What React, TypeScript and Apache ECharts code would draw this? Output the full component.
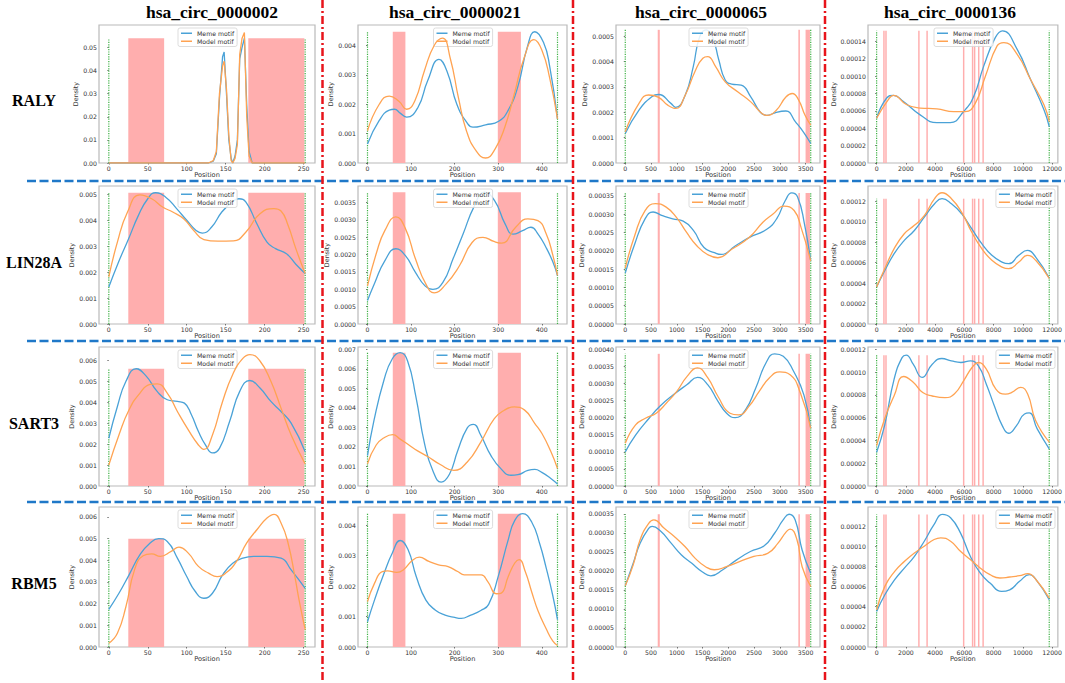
import React, { useEffect, useRef } from 'react';
import * as echarts from 'echarts';

// ---------- labels ----------
const columnTitles = ['hsa_circ_0000002', 'hsa_circ_0000021', 'hsa_circ_0000065', 'hsa_circ_0000136'];
const rowTitles = ['RALY', 'LIN28A', 'SART3', 'RBM5'];
const seriesNames = ['Meme motif', 'Model motif'];

// ---------- per-column data ----------
const seqLengths = [252, 436, 3600, 11800];
const xTickValues = [
  [0, 50, 100, 150, 200, 250],
  [0, 100, 200, 300, 400],
  [0, 500, 1000, 1500, 2000, 2500, 3000, 3500],
  [0, 2000, 4000, 6000, 8000, 10000, 12000],
];
const motifSites0002 = [[25, 71], [179, 251]];
const motifSites0021 = [[58, 87], [299, 352]];
const motifSites0065 = [[630, 670], [3360, 3390], [3500, 3585]];
const motifSites0136 = [[450, 550], [590, 690], [2840, 2940], [3400, 3500], [5900, 6000], [6510, 6610], [6650, 6750], [6930, 7030], [7230, 7330]];
const motifSites = [motifSites0002, motifSites0021, motifSites0065, motifSites0136];

// ---------- per-panel y axis ----------
const yTickStep = [
  [0.01, 0.001, 0.0001, 0.00002],
  [0.001, 0.0005, 0.00005, 0.00002],
  [0.001, 0.001, 0.00005, 0.00002],
  [0.001, 0.001, 0.00005, 0.00002],
];
const yTickDecimals = [
  [2, 3, 4, 5],
  [3, 4, 5, 5],
  [3, 3, 5, 5],
  [3, 3, 5, 5],
];
const yAxisTop = [
  [0.0597, 0.0047, 0.000544, 0.000159],
  [0.00531, 0.00398, 0.000377, 0.000135],
  [0.00664, 0.00712, 0.000407, 0.000122],
  [0.00646, 0.0046, 0.000368, 0.000139],
];

// ---------- curves: RALY ----------
const ralyC02Meme = [[0, 0], [128, 0], [134, 0.0008], [138, 0.004], [142, 0.028], [146, 0.046], [148, 0.048], [151, 0.03], [154, 0.01], [157, 0.002], [159, 0], [162, 0.003], [165, 0.01], [168, 0.045], [171, 0.05], [174, 0.054], [177, 0.025], [180, 0.005], [184, 0], [252, 0]];
const ralyC02Model = [[0, 0], [128, 0], [134, 0.001], [138, 0.005], [142, 0.03], [146, 0.042], [148, 0.044], [151, 0.032], [154, 0.012], [157, 0.001], [159, 0], [162, 0.002], [165, 0.008], [168, 0.047], [171, 0.054], [174, 0.0565], [177, 0.02], [180, 0.003], [184, 0], [252, 0]];
const ralyC21Meme = [[0, 0.00065], [27, 0.00145], [50, 0.0018], [62, 0.00183], [75, 0.0017], [90, 0.00156], [116, 0.0019], [138, 0.0028], [164, 0.00353], [183, 0.0031], [205, 0.002], [227, 0.0014], [242, 0.00122], [271, 0.0013], [301, 0.00142], [323, 0.0018], [345, 0.0026], [367, 0.00396], [384, 0.00447], [404, 0.0041], [418, 0.0033], [436, 0.0015]];
const ralyC21Model = [[0, 0.0011], [27, 0.002], [50, 0.00228], [72, 0.0021], [90, 0.00183], [109, 0.00213], [131, 0.00316], [153, 0.004], [172, 0.00425], [190, 0.00356], [209, 0.0022], [227, 0.0011], [249, 0.00042], [271, 0.00017], [293, 0.00048], [315, 0.00122], [337, 0.00236], [359, 0.00356], [382, 0.0042], [400, 0.00385], [418, 0.0029], [436, 0.0015]];
const ralyC65Meme = [[0, 0.000116], [266, 0.000208], [515, 0.000261], [650, 0.00027], [886, 0.000235], [979, 0.000219], [1165, 0.000268], [1320, 0.00038], [1444, 0.000498], [1570, 0.000525], [1692, 0.000498], [1816, 0.000406], [1940, 0.000327], [2064, 0.000311], [2250, 0.000307], [2436, 0.000261], [2622, 0.0002], [2746, 0.000188], [2932, 0.0002], [3118, 0.000205], [3304, 0.000162], [3459, 0.000122], [3600, 0.000077]];
const ralyC65Model = [[0, 0.000123], [266, 0.000235], [453, 0.000268], [639, 0.00026], [825, 0.000228], [979, 0.000215], [1165, 0.000268], [1351, 0.00036], [1506, 0.000413], [1599, 0.000419], [1754, 0.00038], [1940, 0.00032], [2188, 0.00028], [2436, 0.000241], [2653, 0.000195], [2746, 0.000188], [2932, 0.000208], [3118, 0.00026], [3242, 0.000274], [3366, 0.000248], [3490, 0.000188], [3600, 0.000149]];
const ralyC136Meme = [[0, 0.0000516], [686, 0.0000749], [1144, 0.0000779], [1830, 0.0000709], [2974, 0.0000555], [4118, 0.0000465], [5033, 0.0000465], [5948, 0.0000593], [6634, 0.0000767], [7320, 0.0001116], [8121, 0.0001447], [8600, 0.0001523], [9609, 0.000131], [10524, 0.0000962], [11439, 0.0000613], [11800, 0.0000419]];
const ralyC136Model = [[0, 0.0000516], [800, 0.0000729], [1144, 0.0000779], [2059, 0.0000671], [2974, 0.0000633], [4118, 0.0000624], [5262, 0.0000593], [6063, 0.0000593], [6749, 0.000069], [7435, 0.0001], [8236, 0.0001349], [8700, 0.0001388], [9609, 0.0001252], [10524, 0.0000962], [11439, 0.0000671], [11800, 0.0000477]];

// ---------- curves: LIN28A ----------
const linC02Meme = [[0, 0.00142], [12, 0.00235], [25, 0.00325], [38, 0.00418], [50, 0.00482], [60, 0.00505], [73, 0.00488], [87, 0.00444], [100, 0.00399], [112, 0.0036], [120, 0.0035], [132, 0.00373], [145, 0.00431], [158, 0.00469], [167, 0.00482], [176, 0.00469], [190, 0.00386], [203, 0.00315], [214, 0.0029], [228, 0.0027], [240, 0.0023], [252, 0.00194]];
const linC02Model = [[0, 0.00181], [11, 0.00315], [24, 0.00431], [40, 0.00497], [55, 0.00482], [69, 0.0045], [82, 0.00431], [96, 0.00405], [109, 0.0036], [122, 0.00325], [140, 0.00319], [160, 0.0032], [176, 0.00354], [194, 0.00424], [212, 0.00444], [221, 0.00435], [230, 0.0038], [240, 0.0029], [252, 0.00194]];
const linC21Meme = [[0, 0.00068], [17, 0.0012], [40, 0.00183], [65, 0.00217], [87, 0.00197], [110, 0.00149], [132, 0.0011], [150, 0.001], [173, 0.0012], [197, 0.0019], [220, 0.00262], [244, 0.00337], [268, 0.0038], [292, 0.00355], [316, 0.00288], [334, 0.00259], [356, 0.00269], [375, 0.00279], [391, 0.0026], [410, 0.0022], [425, 0.0018], [436, 0.0014]];
const linC21Model = [[0, 0.0011], [21, 0.00207], [40, 0.0027], [65, 0.00309], [87, 0.00275], [110, 0.00188], [134, 0.00115], [153, 0.0009], [180, 0.00115], [211, 0.00168], [240, 0.00235], [265, 0.0025], [290, 0.00238], [308, 0.00233], [340, 0.00279], [368, 0.00303], [391, 0.00298], [410, 0.0026], [425, 0.002], [436, 0.0014]];
const linC65Meme = [[0, 0.000139], [182, 0.000218], [384, 0.000287], [540, 0.000306], [720, 0.000296], [922, 0.000287], [1124, 0.000281], [1326, 0.000255], [1528, 0.000209], [1730, 0.000195], [1864, 0.00019], [2133, 0.000213], [2403, 0.000236], [2739, 0.000258], [2941, 0.000288], [3109, 0.000338], [3230, 0.000358], [3345, 0.000347], [3479, 0.000273], [3600, 0.000172]];
const linC65Model = [[0, 0.000153], [182, 0.000241], [384, 0.00031], [586, 0.000329], [787, 0.00032], [989, 0.000292], [1191, 0.00025], [1393, 0.000213], [1595, 0.00019], [1797, 0.000181], [2066, 0.000204], [2403, 0.000236], [2672, 0.000278], [2874, 0.000301], [3076, 0.000322], [3278, 0.00031], [3412, 0.000264], [3600, 0.000172]];
const linC136Meme = [[0, 0.0000362], [507, 0.0000509], [1198, 0.0000688], [1889, 0.0000818], [2580, 0.0000915], [3272, 0.0001047], [3963, 0.0001177], [4470, 0.0001226], [5115, 0.0001177], [5806, 0.0001079], [6497, 0.0000932], [7188, 0.0000786], [7879, 0.0000672], [8570, 0.0000606], [9031, 0.000059], [9722, 0.0000672], [10299, 0.000072], [10875, 0.0000655], [11800, 0.000045]];
const linC136Model = [[0, 0.0000362], [507, 0.0000525], [1198, 0.0000737], [1889, 0.0000883], [2580, 0.0000965], [3272, 0.0001063], [3963, 0.0001226], [4470, 0.0001284], [5115, 0.0001226], [5806, 0.0001095], [6497, 0.00009], [7188, 0.0000737], [7879, 0.0000623], [8570, 0.0000557], [9031, 0.0000541], [9722, 0.0000606], [10299, 0.0000672], [10875, 0.0000623], [11800, 0.0000445]];

// ---------- curves: SART3 ----------
const sartC02Meme = [[0, 0.00228], [11, 0.0038], [22, 0.005], [35, 0.0056], [48, 0.00525], [62, 0.00452], [75, 0.00412], [88, 0.00404], [97, 0.00396], [106, 0.0034], [115, 0.0026], [124, 0.00196], [133, 0.00158], [142, 0.0018], [155, 0.00308], [168, 0.00452], [181, 0.00504], [194, 0.00468], [208, 0.00404], [221, 0.00356], [234, 0.003], [252, 0.00164]];
const sartC02Model = [[0, 0.001], [13, 0.00244], [26, 0.00364], [40, 0.00444], [53, 0.00485], [62, 0.00488], [75, 0.00444], [88, 0.00356], [102, 0.00268], [115, 0.00196], [122, 0.00175], [133, 0.00244], [146, 0.00404], [159, 0.00533], [172, 0.0061], [181, 0.00628], [194, 0.00597], [208, 0.005], [221, 0.00372], [234, 0.00244], [252, 0.00105]];
const sartC21Meme = [[0, 0.00156], [15, 0.00337], [38, 0.00544], [57, 0.00652], [75, 0.00683], [92, 0.0064], [111, 0.00458], [131, 0.00216], [150, 0.00078], [169, 0.0002], [188, 0.0006], [207, 0.00181], [229, 0.00298], [243, 0.00316], [260, 0.0026], [283, 0.00157], [306, 0.00089], [329, 0.00055], [345, 0.00058], [368, 0.0008], [384, 0.00085], [400, 0.0007], [420, 0.0004], [436, 0.0001]];
const sartC21Model = [[0, 0.00114], [20, 0.0021], [40, 0.0025], [58, 0.00263], [75, 0.0024], [95, 0.0021], [115, 0.0018], [139, 0.0015], [167, 0.0011], [198, 0.0008], [229, 0.00123], [260, 0.00225], [291, 0.00345], [314, 0.00388], [337, 0.00405], [360, 0.0039], [384, 0.0032], [400, 0.0027], [420, 0.0018], [436, 0.0009]];
const sartC65Meme = [[0, 0.0001], [200, 0.000149], [467, 0.000199], [667, 0.000233], [933, 0.000267], [1200, 0.000297], [1400, 0.000318], [1600, 0.000297], [1800, 0.000248], [1967, 0.000213], [2133, 0.0002], [2333, 0.000223], [2533, 0.000287], [2733, 0.000361], [2900, 0.000387], [3067, 0.00038], [3267, 0.000336], [3467, 0.000267], [3600, 0.000169]];
const sartC65Model = [[0, 0.000125], [200, 0.000179], [400, 0.000199], [600, 0.000213], [800, 0.000243], [1000, 0.000277], [1200, 0.000321], [1400, 0.000346], [1600, 0.000317], [1800, 0.000262], [2033, 0.000213], [2200, 0.000208], [2400, 0.000233], [2600, 0.000277], [2800, 0.000317], [3000, 0.000334], [3200, 0.000326], [3400, 0.000272], [3600, 0.000169]];
const sartC136Meme = [[0, 0.0000297], [543, 0.000053], [1196, 0.0000938], [1739, 0.0001127], [2022, 0.0001148], [2500, 0.0001069], [3109, 0.0000953], [3804, 0.0001069], [4457, 0.0001119], [5109, 0.0001098], [5761, 0.0001084], [6413, 0.0001098], [6957, 0.0001055], [7500, 0.0000894], [8044, 0.0000705], [8587, 0.000053], [9022, 0.0000463], [9565, 0.000053], [10109, 0.0000632], [10435, 0.0000641], [10978, 0.0000501], [11800, 0.0000326]];
const sartC136Model = [[0, 0.0000355], [543, 0.0000588], [1196, 0.0000792], [1848, 0.0000961], [2500, 0.000091], [3152, 0.000082], [3804, 0.000079], [4674, 0.0000775], [5326, 0.000081], [5978, 0.000093], [6522, 0.000104], [6957, 0.0001084], [7500, 0.0001025], [8152, 0.0000851], [8804, 0.0000807], [9239, 0.0000821], [9848, 0.0000865], [10326, 0.0000807], [10870, 0.0000574], [11800, 0.0000385]];

// ---------- curves: RBM5 ----------
const rbmC02Meme = [[0, 0.00174], [13, 0.00248], [26, 0.00333], [40, 0.00426], [53, 0.0048], [64, 0.005], [75, 0.00487], [88, 0.0041], [100, 0.00325], [111, 0.00256], [122, 0.00225], [133, 0.00248], [146, 0.00333], [159, 0.00387], [172, 0.0041], [186, 0.00418], [203, 0.00418], [221, 0.0041], [234, 0.00356], [252, 0.00271]];
const rbmC02Model = [[0, 0.00017], [11, 0.00063], [22, 0.00187], [33, 0.00356], [44, 0.00421], [55, 0.0043], [66, 0.00418], [80, 0.00441], [90, 0.00461], [102, 0.00433], [115, 0.00372], [128, 0.00341], [139, 0.00325], [150, 0.00341], [164, 0.00395], [177, 0.0048], [190, 0.00541], [203, 0.00595], [212, 0.00612], [221, 0.00572], [230, 0.0048], [239, 0.0032], [244, 0.0022], [252, 0.0008]];
const rbmC21Meme = [[0, 0.00083], [16, 0.00154], [38, 0.00242], [57, 0.00309], [75, 0.0035], [93, 0.0032], [112, 0.00231], [134, 0.00154], [156, 0.00121], [178, 0.00105], [200, 0.00097], [215, 0.00094], [237, 0.00105], [260, 0.0012], [278, 0.0014], [300, 0.00232], [323, 0.00353], [338, 0.00416], [356, 0.00438], [377, 0.0041], [395, 0.0034], [410, 0.0026], [425, 0.0017], [436, 0.0009]];
const rbmC21Model = [[0, 0.00149], [16, 0.00209], [34, 0.00248], [46, 0.0025], [67, 0.00245], [82, 0.00253], [104, 0.00286], [119, 0.00295], [141, 0.00281], [163, 0.0027], [185, 0.00264], [207, 0.00248], [222, 0.00237], [244, 0.00237], [261, 0.00237], [276, 0.00215], [296, 0.00175], [307, 0.00177], [323, 0.00232], [338, 0.00276], [348, 0.00287], [362, 0.00248], [377, 0.0018], [391, 0.0012], [410, 0.0006], [425, 0.0002], [436, 0.00005]];
const rbmC65Meme = [[0, 0.000161], [154, 0.00022], [288, 0.000273], [455, 0.000312], [522, 0.000317], [689, 0.000304], [890, 0.000273], [1091, 0.000242], [1292, 0.00022], [1492, 0.000198], [1660, 0.000187], [1894, 0.000203], [2162, 0.000229], [2429, 0.000251], [2697, 0.000266], [2898, 0.000299], [3065, 0.000334], [3179, 0.000349], [3299, 0.000334], [3433, 0.000255], [3600, 0.000194]];
const rbmC65Model = [[0, 0.000161], [154, 0.000216], [288, 0.000282], [455, 0.000325], [555, 0.000334], [756, 0.000312], [957, 0.00029], [1158, 0.000264], [1358, 0.000233], [1559, 0.000211], [1727, 0.000203], [1961, 0.000211], [2228, 0.000225], [2496, 0.000238], [2764, 0.000246], [2965, 0.000273], [3132, 0.000304], [3199, 0.00031], [3333, 0.000282], [3433, 0.000211], [3600, 0.000159]];
const rbmC136Meme = [[0, 0.0000352], [562, 0.0000519], [1236, 0.0000668], [1910, 0.0000785], [2584, 0.000090], [3258, 0.000105], [3932, 0.0001217], [4494, 0.0001316], [5056, 0.0001283], [5730, 0.0001133], [6404, 0.0000901], [7078, 0.0000735], [7752, 0.0000635], [8539, 0.0000552], [9100, 0.0000568], [9774, 0.0000652], [10449, 0.0000718], [10898, 0.0000668], [11800, 0.0000469]];
const rbmC136Model = [[0, 0.0000369], [562, 0.0000602], [1236, 0.0000751], [1910, 0.0000851], [2584, 0.0000934], [3258, 0.0001], [3932, 0.0001067], [4382, 0.0001084], [5056, 0.000105], [5730, 0.0000951], [6404, 0.0000868], [7078, 0.0000785], [7752, 0.0000718], [8426, 0.0000685], [9100, 0.0000695], [9774, 0.0000708], [10336, 0.0000728], [10898, 0.0000668], [11800, 0.0000485]];

const memeCurves = [
  [ralyC02Meme, ralyC21Meme, ralyC65Meme, ralyC136Meme],
  [linC02Meme, linC21Meme, linC65Meme, linC136Meme],
  [sartC02Meme, sartC21Meme, sartC65Meme, sartC136Meme],
  [rbmC02Meme, rbmC21Meme, rbmC65Meme, rbmC136Meme],
];
const modelCurves = [
  [ralyC02Model, ralyC21Model, ralyC65Model, ralyC136Model],
  [linC02Model, linC21Model, linC65Model, linC136Model],
  [sartC02Model, sartC21Model, sartC65Model, sartC136Model],
  [rbmC02Model, rbmC21Model, rbmC65Model, rbmC136Model],
];

// ---------- layout & style (not data) ----------
const W = 1065;
const H = 683;
const FRAME_LEFT = [99, 358, 616, 868];
const FRAME_RIGHT = [315, 567, 820, 1058];
const FRAME_TOP = [25, 186, 347, 507];
const FRAME_BOTTOM = [163, 324, 486, 647];
const TITLE_X = [212, 455, 701, 950];
const ROW_LABEL_Y = [100, 262, 423, 583];
const RED_SEP_X = [322.5, 573, 825];
const BLUE_SEP_Y = [181, 341, 502];
const NAME_GAP_BY_DEC: Record<number, number> = { 2: 16.5, 3: 20.5, 4: 25, 5: 29 };
const BLUE = '#4aa2d7';
const ORANGE = '#ffa352';
const PINK = '#ffaeae';
const GREEN = '#3cb043';
const TICK_FONT = 'DejaVu Sans';

function buildOption() {
  const grid: any[] = [];
  const xAxis: any[] = [];
  const yAxis: any[] = [];
  const series: any[] = [];
  const legend: any[] = [];

  for (let r = 0; r < 4; r++) {
    for (let c = 0; c < 4; c++) {
      const i = r * 4 + c;
      const len = seqLengths[c];
      grid.push({
        left: FRAME_LEFT[c],
        top: FRAME_TOP[r],
        width: FRAME_RIGHT[c] - FRAME_LEFT[c],
        height: FRAME_BOTTOM[r] - FRAME_TOP[r],
        show: true,
        borderColor: '#bababa',
        borderWidth: 1.2,
        backgroundColor: 'transparent',
      });
      xAxis.push({
        type: 'value',
        gridIndex: i,
        min: -0.05 * len,
        max: 1.05 * len,
        splitLine: { show: false },
        axisLine: { show: false },
        axisTick: { show: true, length: 1.5, lineStyle: { color: '#555', width: 0.8 }, customValues: xTickValues[c] },
        axisLabel: {
          customValues: xTickValues[c],
          fontSize: 6.2,
          color: '#333',
          margin: 2,
          fontFamily: TICK_FONT,
          formatter: (v: number) => String(Math.round(v)),
        },
        name: 'Position',
        nameLocation: 'middle',
        nameGap: 8.5,
        nameTextStyle: { fontSize: 6.6, color: '#333', fontFamily: TICK_FONT, verticalAlign: 'top' },
      });
      const step = yTickStep[r][c];
      const top = yAxisTop[r][c];
      const dec = yTickDecimals[r][c];
      const yt: number[] = [];
      for (let k = 0; k * step <= top * 1.000001; k++) yt.push(Number((k * step).toFixed(10)));
      yAxis.push({
        type: 'value',
        gridIndex: i,
        min: 0,
        max: top,
        splitLine: { show: false },
        axisLine: { show: false },
        axisTick: { show: true, length: 1.5, lineStyle: { color: '#555', width: 0.8 }, customValues: yt },
        axisLabel: {
          customValues: yt,
          fontSize: 6.2,
          color: '#333',
          margin: 2,
          fontFamily: TICK_FONT,
          formatter: (v: number) => Number(v).toFixed(dec),
        },
        name: 'Density',
        nameLocation: 'middle',
        nameRotate: 90,
        nameGap: NAME_GAP_BY_DEC[dec],
        nameTextStyle: { fontSize: 6.4, color: '#333', fontFamily: TICK_FONT },
      });

      const meme = memeCurves[r][c];
      const model = modelCurves[r][c];
      let barTop = 0;
      meme.forEach((p) => { if (p[1] > barTop) barTop = p[1]; });

      series.push({
        type: 'custom',
        name: 'motif sites',
        xAxisIndex: i,
        yAxisIndex: i,
        silent: true,
        z: 1,
        data: motifSites[c].map((s) => [s[0], s[1], barTop]),
        encode: { x: [0, 1], y: 2 },
        renderItem: (_p: any, api: any) => {
          const a = api.coord([api.value(0), api.value(2)]);
          const b = api.coord([api.value(1), 0]);
          return {
            type: 'rect',
            shape: { x: a[0], y: a[1], width: Math.max(b[0] - a[0], 1.2), height: b[1] - a[1] },
            style: { fill: PINK },
          };
        },
      });
      series.push({
        type: 'custom',
        name: 'sequence ends',
        xAxisIndex: i,
        yAxisIndex: i,
        silent: true,
        z: 2,
        data: [[0, barTop], [len, barTop]],
        encode: { x: 0, y: 1 },
        renderItem: (_p: any, api: any) => {
          const a = api.coord([api.value(0), 0]);
          const b = api.coord([api.value(0), api.value(1)]);
          return {
            type: 'line',
            shape: { x1: a[0], y1: a[1], x2: b[0], y2: b[1] },
            style: { stroke: GREEN, lineWidth: 1.2, lineDash: [1.2, 1.2] },
          };
        },
      });
      const smooth = r === 0 && c === 0 ? false : 0.5;
      series.push({
        type: 'line',
        name: seriesNames[0],
        xAxisIndex: i,
        yAxisIndex: i,
        data: meme,
        symbol: 'none',
        showSymbol: false,
        smooth,
        color: BLUE,
        lineStyle: { color: BLUE, width: 1.3 },
        silent: true,
        z: 3,
      });
      series.push({
        type: 'line',
        name: seriesNames[1],
        xAxisIndex: i,
        yAxisIndex: i,
        data: model,
        symbol: 'none',
        showSymbol: false,
        smooth,
        color: ORANGE,
        lineStyle: { color: ORANGE, width: 1.3 },
        silent: true,
        z: 4,
      });

      const upperRight = c === 3 && r > 0;
      const lg: any = {
        data: seriesNames,
        orient: 'vertical',
        top: FRAME_TOP[r] + 3,
        icon: 'rect',
        itemWidth: 11,
        itemHeight: 1.5,
        itemGap: 0.5,
        padding: [1.5, 3, 1.5, 3],
        borderColor: '#d4d4d4',
        borderWidth: 0.8,
        borderRadius: 2,
        backgroundColor: 'rgba(255,255,255,0.85)',
        selectedMode: false,
        textStyle: { fontSize: 6.2, color: '#333', fontFamily: TICK_FONT, lineHeight: 7.5 },
      };
      if (upperRight) lg.right = W - FRAME_RIGHT[c] + 3;
      else lg.left = (FRAME_LEFT[c] + FRAME_RIGHT[c]) / 2 - 29;
      legend.push(lg);
    }
  }

  const graphic: any[] = [];
  BLUE_SEP_Y.forEach((y) => {
    graphic.push({
      type: 'line',
      z: 50,
      silent: true,
      shape: { x1: 27, y1: y, x2: W, y2: y },
      style: { stroke: '#1f78c8', lineWidth: 2.5, lineDash: [9, 3.5] },
    });
  });
  RED_SEP_X.forEach((x) => {
    graphic.push({
      type: 'line',
      z: 51,
      silent: true,
      shape: { x1: x, y1: 0, x2: x, y2: H },
      style: { stroke: '#e8141b', lineWidth: 2.5, lineDash: [8, 3, 2, 3] },
    });
  });
  columnTitles.forEach((t, c) => {
    graphic.push({
      type: 'text',
      z: 52,
      silent: true,
      x: TITLE_X[c],
      y: 12,
      style: { text: t, fontSize: 17.5, fontWeight: 'bold', fontFamily: '"Liberation Serif", "Times New Roman", serif', fill: '#000', align: 'center', verticalAlign: 'middle' },
    });
  });
  rowTitles.forEach((t, r) => {
    graphic.push({
      type: 'text',
      z: 52,
      silent: true,
      x: 34,
      y: ROW_LABEL_Y[r],
      style: { text: t, fontSize: 16, fontWeight: 'bold', fontFamily: '"Liberation Serif", "Times New Roman", serif', fill: '#000', align: 'center', verticalAlign: 'middle' },
    });
  });

  return {
    animation: false,
    backgroundColor: '#ffffff',
    grid,
    xAxis,
    yAxis,
    legend,
    series,
    graphic,
  };
}

export default function App() {
  const ref = useRef<HTMLDivElement>(null);
  useEffect(() => {
    document.body.style.margin = '0';
    if (!ref.current) return;
    const chart = echarts.init(ref.current, undefined, { renderer: 'svg' });
    chart.setOption(buildOption() as any);
    return () => {
      chart.dispose();
    };
  }, []);
  return <div ref={ref} style={{ width: W, height: H }} />;
}
